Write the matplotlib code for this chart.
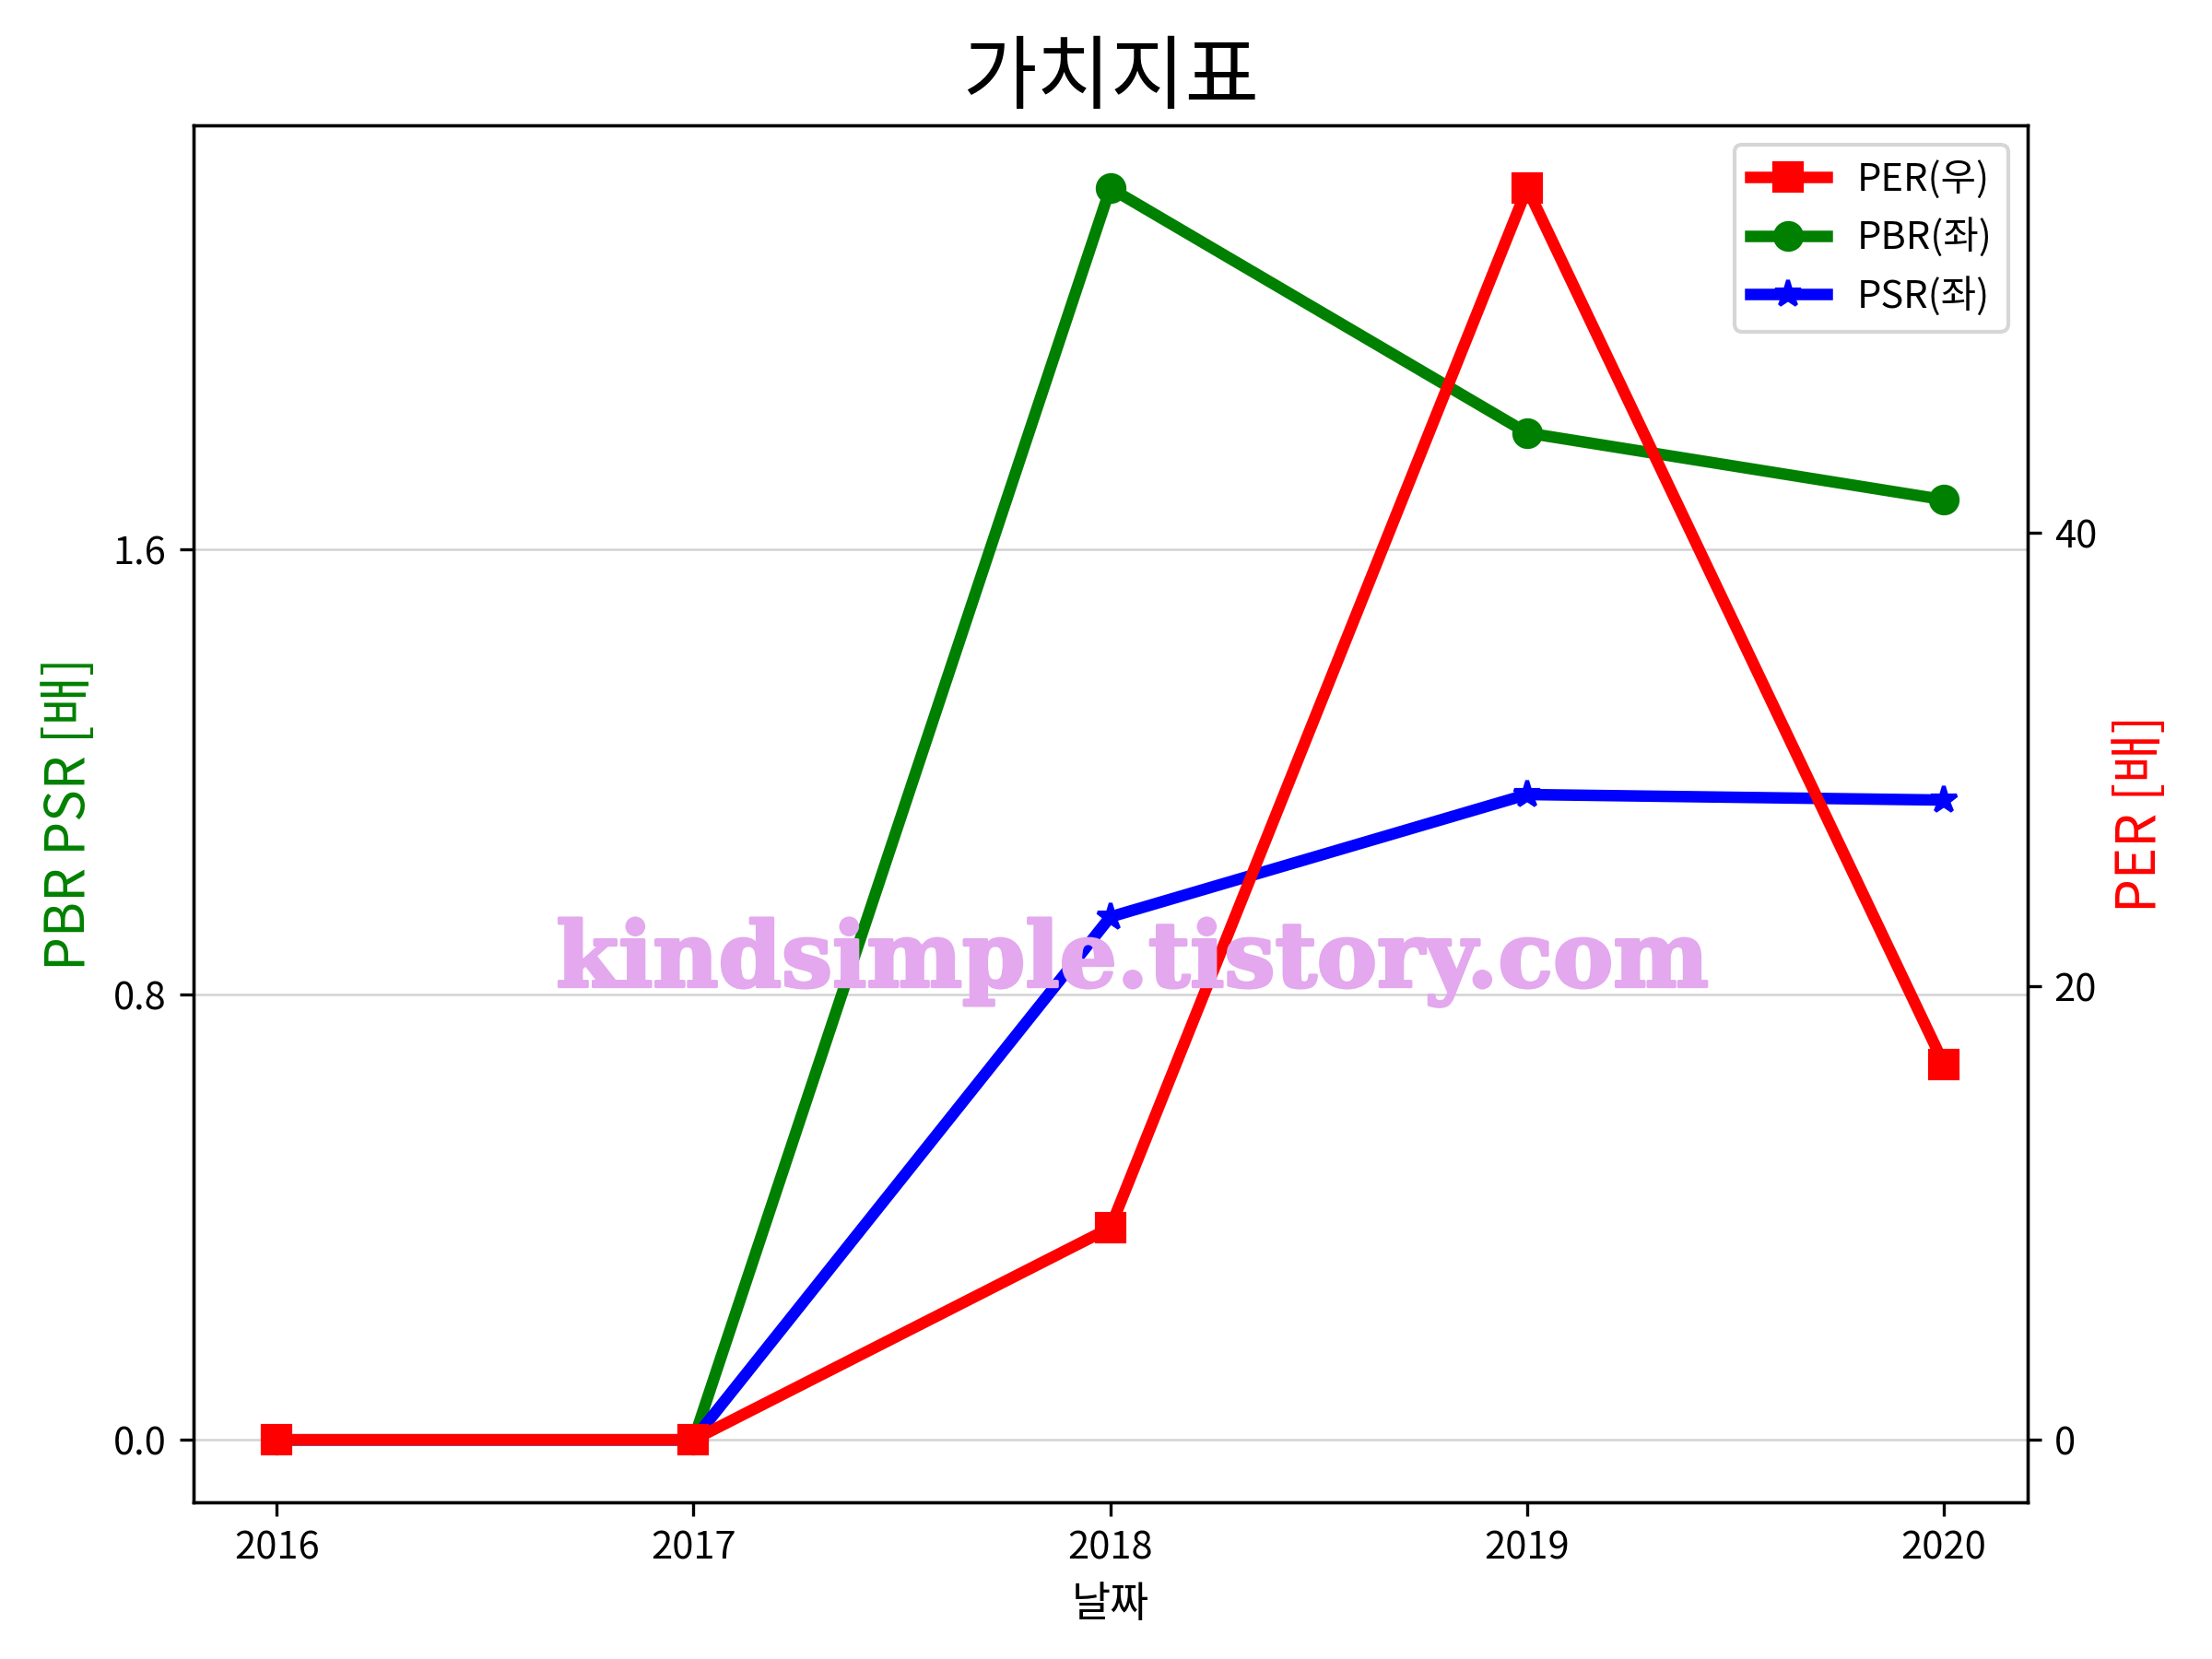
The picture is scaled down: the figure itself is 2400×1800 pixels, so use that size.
import matplotlib
matplotlib.use("Agg")
import matplotlib.pyplot as plt
import matplotlib.patheffects as pe

plt.rcParams['font.family'] = ['Noto Sans CJK KR', 'DejaVu Sans']
plt.rcParams['axes.unicode_minus'] = False

# data
years = [2016, 2017, 2018, 2019, 2020]
per = [0.0, 0.0, 9.35, 55.2, 16.57]
pbr = [0.0, 0.0, 2.25, 1.81, 1.69]
psr = [0.0, 0.0, 0.94, 1.16, 1.15]

left_ticks = [0.0, 0.8, 1.6]
right_ticks = [0, 20, 40]

fig, ax1 = plt.subplots(figsize=(8, 6), dpi=300)
fig.subplots_adjust(left=0.0874, right=0.9165, top=0.9243, bottom=0.0944)

ax2 = ax1.twinx()

l1, = ax2.plot(years, per, color="red", marker="s", linewidth=3, markersize=7, label="PER(우)")
l2, = ax1.plot(years, pbr, color="green", marker="o", linewidth=3, markersize=7, label="PBR(좌)")
l3, = ax1.plot(years, psr, color="blue", marker="*", linewidth=3, markersize=7, label="PSR(좌)")

ax1.set_yticks(left_ticks)
ax2.set_yticks(right_ticks)
ax1.set_xticks(years)
ax1.grid(axis="y", color="lightgrey", linewidth=0.6)

ax1.set_xlabel("날짜", fontsize=11)
ax1.set_ylabel("PBR PSR [배]", color="green", fontsize=14)
ax2.set_ylabel("PER [배]", color="red", fontsize=14)
ax1.set_title("가치지표", fontsize=21)

ax2.legend(handles=[l1, l2, l3], loc="upper right", fontsize=10)

# watermark
ax2.text(0.512, 0.392, "kindsimple.tistory.com", transform=ax2.transAxes,
         ha="center", va="center", fontsize=23.5, fontweight="bold",
         family="DejaVu Serif", color="#e3a8ee", zorder=10,
         path_effects=[pe.withStroke(linewidth=0.8, foreground="#e3a8ee")])

plt.savefig("out.png", dpi=300)
